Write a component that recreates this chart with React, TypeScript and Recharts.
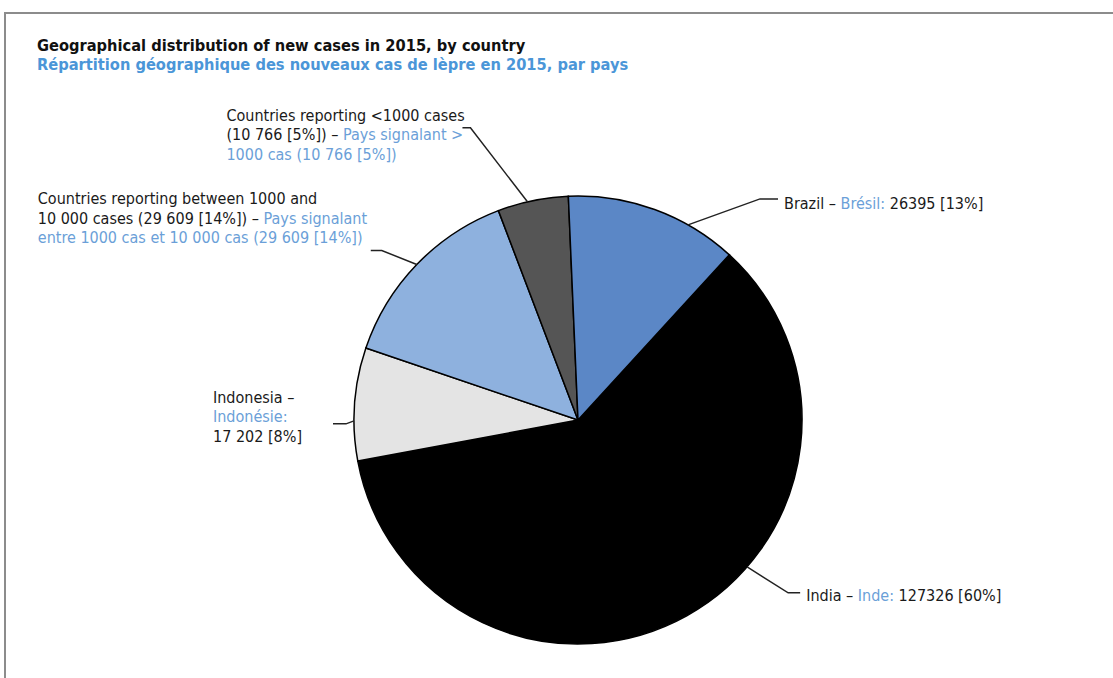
import { PieChart, Pie, Cell } from 'recharts';

// slices, clockwise from the Brazil/India boundary
const names = ['India', 'Indonesia', 'Between1000and10000', 'Under1000', 'Brazil'];
const cases = [127326, 17202, 29609, 10766, 26395];
const sliceColors = ['#000000', '#e4e4e4', '#8eb1de', '#555555', '#5b87c6'];

// label texts: each line is a list of [text, isFrench] pieces
const labelLines: [string, boolean][][][] = [
  [[['India – ', false], ['Inde: ', true], ['127326 [60%]', false]]],
  [[['Indonesia –', false]], [['Indonésie:', true]], [['17 202 [8%]', false]]],
  [
    [['Countries reporting between 1000 and', false]],
    [['10 000 cases (29 609 [14%]) – ', false], ['Pays signalant', true]],
    [['entre 1000 cas et 10 000 cas (29 609 [14%])', true]],
  ],
  [
    [['Countries reporting <1000 cases', false]],
    [['(10 766 [5%]) – ', false], ['Pays signalant >', true]],
    [['1000 cas (10 766 [5%])', true]],
  ],
  [[['Brazil – ', false], ['Brésil: ', true], ['26395 [13%]', false]]],
];

const data = names.map((name, i) => ({ name, value: cases[i] }));

const FONT = "'Liberation Sans Narrow', 'DejaVu Sans Condensed', 'Arial Narrow', sans-serif";
const BLACK = '#1a1a1a';
const BLUE = '#6b9fd8';
const RADIAN = Math.PI / 180;

// leader line layout per slice: angle shift on the rim, elbow offset, tail length,
// text offset from the tail end (x, y of first line centre)
const leader = [
  { shift: 20, elbow: [41, 26], tail: 12, text: [6, 2] },
  { shift: 4.3, elbow: [-8, 3], tail: -13, text: [-120, -27] },
  { shift: 0, elbow: [-35, -14], tail: -11, text: [-333, -52] },
  { shift: 1.4, elbow: [-57, -74], tail: -8, text: [-236, -13] },
  { shift: -9.4, elbow: [72, -26], tail: 18, text: [6, 4] },
];
const LINE_GAP = 19.5;

const renderLabel = (props: any) => {
  const { cx, cy, midAngle, outerRadius, index } = props;
  const l = leader[index];
  const a = (midAngle + l.shift) * RADIAN;
  const x0 = cx + outerRadius * Math.cos(a);
  const y0 = cy - outerRadius * Math.sin(a);
  const x1 = x0 + l.elbow[0];
  const y1 = y0 + l.elbow[1];
  const x2 = x1 + l.tail;
  const tx = x2 + l.text[0];
  const ty = y1 + l.text[1];
  return (
    <g key={`lbl-${index}`}>
      <polyline points={`${x0},${y0} ${x1},${y1} ${x2},${y1}`} fill="none" stroke="#222" strokeWidth={1.5} />
      <text x={tx} y={ty} fontFamily={FONT} fontSize={16} textAnchor="start" dominantBaseline="central">
        {labelLines[index].map((line, li) => (
          <tspan key={li} x={tx} dy={li === 0 ? 0 : LINE_GAP}>
            {line.map(([t, fr], pi) => (
              <tspan key={pi} fill={fr ? BLUE : BLACK}>{t}</tspan>
            ))}
          </tspan>
        ))}
      </text>
    </g>
  );
};

export default function App() {
  return (
    <div style={{ position: 'absolute', left: 0, top: 0, width: 1113, height: 678, background: '#fff', overflow: 'hidden' }}>
      <div
        style={{
          position: 'absolute', left: 4, top: 12, width: 1200, height: 700,
          borderTop: '2px solid #8c8c8c', borderLeft: '2px solid #8c8c8c',
        }}
      />
      <div style={{ position: 'absolute', left: 37, top: 36, fontFamily: FONT, fontWeight: 'bold', fontSize: 16.3, lineHeight: '19px' }}>
        <div style={{ color: '#111' }}>Geographical distribution of new cases in 2015, by country</div>
        <div style={{ color: '#4b96d8' }}>Répartition géographique des nouveaux cas de lèpre en 2015, par pays</div>
      </div>
      <div style={{ position: 'absolute', left: 0, top: 0 }}>
        <PieChart width={1113} height={678}>
          <Pie
            data={data}
            dataKey="value"
            nameKey="name"
            cx={573}
            cy={415}
            outerRadius={224}
            startAngle={47.5}
            endAngle={-312.5}
            stroke="#000"
            strokeWidth={1.5}
            label={renderLabel}
            labelLine={false}
            isAnimationActive={false}
          >
            {data.map((d, i) => (
              <Cell key={d.name} fill={sliceColors[i]} />
            ))}
          </Pie>
        </PieChart>
      </div>
    </div>
  );
}
